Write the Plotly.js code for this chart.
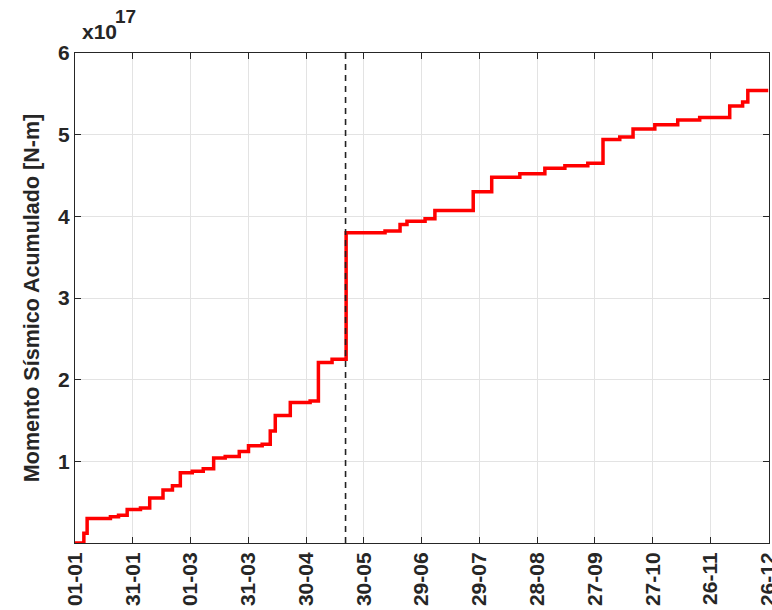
<!DOCTYPE html>
<html>
<head>
<meta charset="utf-8">
<script src="https://cdn.plot.ly/plotly-3.0.1.min.js"></script>
<style>html,body{margin:0;padding:0;background:#fff;}#chart{width:772px;height:610px;}</style>
</head>
<body>
<div id="chart"></div>
<script>
// Day offsets (from 01-01, leap year) of each step and cumulative moment (x10^17 N-m)
const eventDays = [0, 4.6, 6.3, 18.4, 22.6, 27.1, 34.0, 38.8, 45.7, 50.6, 54.7, 60.9, 66.6, 72.0, 78.0, 85.3, 90.1, 97.2, 101.4, 104.0, 111.8, 122.1, 126.4, 133.5, 140.8, 161.0, 168.8, 172.4, 181.8, 186.9, 206.8, 216.4, 231.0, 244.0, 254.4, 266.3, 274.2, 282.9, 289.8, 301.1, 313.0, 324.4, 340.0, 346.7, 349.4, 360];
const cumMoment = [0.0, 0.12, 0.30, 0.32, 0.34, 0.41, 0.43, 0.55, 0.65, 0.70, 0.86, 0.88, 0.91, 1.04, 1.06, 1.12, 1.19, 1.21, 1.37, 1.56, 1.72, 1.74, 2.21, 2.25, 3.80, 3.82, 3.90, 3.94, 3.97, 4.07, 4.30, 4.48, 4.52, 4.59, 4.62, 4.65, 4.94, 4.97, 5.07, 5.12, 5.18, 5.21, 5.35, 5.40, 5.54, 5.54];
const markerDay = 140.5;
const tickDays = [0, 30, 60, 90, 120, 150, 180, 210, 240, 270, 300, 330, 360];
const tickLabels = ['01-01', '31-01', '01-03', '31-03', '30-04', '30-05', '29-06', '29-07', '28-08', '27-09', '27-10', '26-11', '26-12'];
const yTicks = [1, 2, 3, 4, 5, 6];
const yLabels = ['1', '2', '3', '4', '5', '6'];

const fontFam = '"Liberation Sans", Arial, sans-serif';
const txtCol = '#262626';
const traces = [
  {
    x: eventDays, y: cumMoment, type: 'scatter', mode: 'lines',
    line: {color: '#ff0000', width: 3.5, shape: 'hv'}, hoverinfo: 'skip', showlegend: false
  },
  {
    x: [markerDay, markerDay], y: [0, 6], type: 'scatter', mode: 'lines',
    line: {color: '#222222', width: 1.6, dash: '6px,5px'}, hoverinfo: 'skip', showlegend: false
  }
];
const layout = {
  width: 772, height: 610,
  margin: {l: 74.5, r: 2.5, t: 53, b: 67, pad: 0},
  paper_bgcolor: '#ffffff', plot_bgcolor: '#ffffff',
  font: {family: fontFam, size: 21, color: txtCol},
  xaxis: {
    range: [0, 360.4], tickvals: tickDays, ticktext: tickLabels, tickangle: -90,
    ticklabeloverflow: 'allow',
    showgrid: true, gridcolor: '#e3e3e3', gridwidth: 1,
    showline: true, linecolor: txtCol, linewidth: 1, mirror: 'ticks',
    ticks: 'inside', ticklen: 6, tickcolor: txtCol,
    tickfont: {family: fontFam, size: 21, color: txtCol, weight: 'bold'},
    zeroline: false, fixedrange: true
  },
  yaxis: {
    range: [0, 6], tickvals: yTicks, ticktext: yLabels,
    showgrid: true, gridcolor: '#e3e3e3', gridwidth: 1,
    showline: true, linecolor: txtCol, linewidth: 1, mirror: 'ticks',
    ticks: 'inside', ticklen: 6, tickcolor: txtCol,
    tickfont: {family: fontFam, size: 21, color: txtCol, weight: 'bold'},
    title: {text: 'Momento Sísmico Acumulado [N-m]', standoff: 12,
            font: {family: fontFam, size: 21.5, color: txtCol, weight: 'bold'}},
    zeroline: false, fixedrange: true
  },
  annotations: [
    {text: 'x10', xref: 'paper', yref: 'paper', x: 0.007, y: 1.0, xanchor: 'left', yanchor: 'bottom',
     yshift: 8, showarrow: false, font: {family: fontFam, size: 21, color: txtCol, weight: 'bold'}},
    {text: '17', xref: 'paper', yref: 'paper', x: 0.036, y: 1.0, xanchor: 'left', yanchor: 'bottom',
     xshift: 13, yshift: 24, showarrow: false, font: {family: fontFam, size: 19, color: txtCol, weight: 'bold'}}
  ]
};
Plotly.newPlot('chart', traces, layout, {displayModeBar: false, staticPlot: true});
</script>
</body>
</html>
